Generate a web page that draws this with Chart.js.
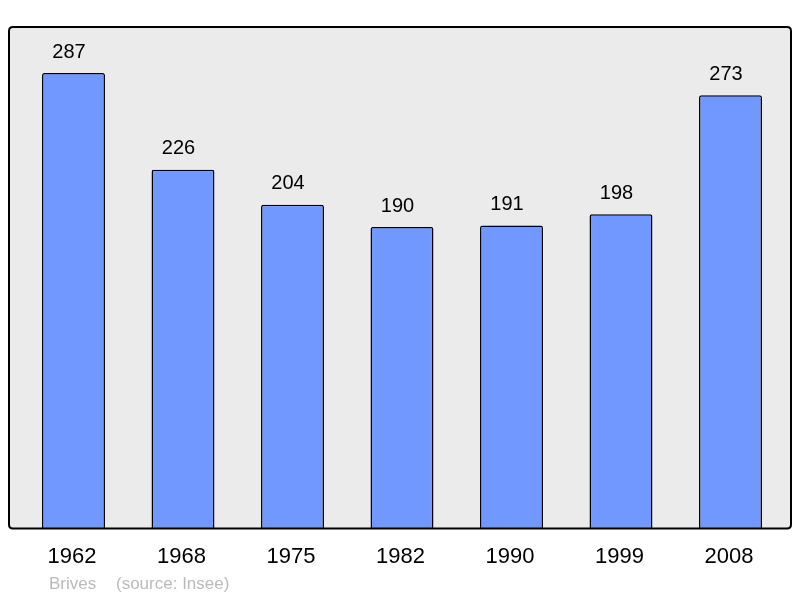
<!DOCTYPE html>
<html>
<head>
<meta charset="utf-8">
<script src="https://cdn.jsdelivr.net/npm/chart.js@4"></script>
<style>
html,body{margin:0;padding:0;background:#fff;}
#wrap{width:800px;height:598px;}
</style>
</head>
<body>
<div id="wrap"><canvas id="c" width="800" height="598"></canvas></div>
<script>
const categories = ["1962","1968","1975","1982","1990","1999","2008"];
const population = [287,226,204,190,191,198,273];
const footerName = "Brives";
const footerSource = "(source: Insee)";

function roundRectPath(ctx,x,y,w,h,r){
  ctx.beginPath();
  ctx.moveTo(x+r,y);
  ctx.lineTo(x+w-r,y);
  ctx.quadraticCurveTo(x+w,y,x+w,y+r);
  ctx.lineTo(x+w,y+h-r);
  ctx.quadraticCurveTo(x+w,y+h,x+w-r,y+h);
  ctx.lineTo(x+r,y+h);
  ctx.quadraticCurveTo(x,y+h,x,y+h-r);
  ctx.lineTo(x,y+r);
  ctx.quadraticCurveTo(x,y,x+r,y);
  ctx.closePath();
}

const framePlugin = {
  id:'frame',
  beforeDatasetsDraw(chart){
    const a = chart.chartArea, ctx = chart.ctx;
    ctx.save();
    roundRectPath(ctx, a.left-9.75, a.top, (a.right+5.75)-(a.left-9.75), a.bottom-a.top, 4);
    ctx.fillStyle = '#ebebeb';
    ctx.fill();
    ctx.restore();
  },
  afterDatasetsDraw(chart){
    const a = chart.chartArea, ctx = chart.ctx;
    ctx.save();
    roundRectPath(ctx, a.left-9.75, a.top, (a.right+5.75)-(a.left-9.75), a.bottom-a.top, 4);
    ctx.lineWidth = 2;
    ctx.strokeStyle = '#000';
    ctx.stroke();
    // value labels
    const meta = chart.getDatasetMeta(0);
    ctx.fillStyle = '#000';
    ctx.font = '20px "Liberation Sans", Arial, sans-serif';
    ctx.textAlign = 'center';
    ctx.textBaseline = 'middle';
    meta.data.forEach((bar,i)=>{
      ctx.fillText(String(chart.data.datasets[0].data[i]), bar.x-4.5, bar.y-21);
    });
    // footer
    ctx.fillStyle = '#bbbbbb';
    ctx.font = '17px "Liberation Sans", Arial, sans-serif';
    ctx.textAlign = 'left';
    ctx.fillText(footerName, 49, 584);
    ctx.fillText(footerSource, 116, 584);
    ctx.restore();
  }
};

new Chart(document.getElementById('c'), {
  type:'bar',
  data:{
    labels:categories,
    datasets:[{
      data:population,
      backgroundColor:'#7098ff',
      borderColor:'#000',
      borderWidth:1.5,
      borderRadius:{topLeft:2,topRight:2,bottomLeft:0,bottomRight:0},
      borderSkipped:'bottom',
      barPercentage:0.575,
      categoryPercentage:1
    }]
  },
  options:{
    responsive:false,
    animation:false,
    devicePixelRatio:1,
    layout:{padding:{top:27,left:18.75,right:14.75,bottom:13}},
    plugins:{legend:{display:false},tooltip:{enabled:false}},
    scales:{
      y:{display:false,min:0,max:316},
      x:{
        grid:{display:false,drawTicks:false},
        border:{display:false},
        ticks:{color:'#000',padding:15,labelOffset:-1.5,font:{size:22,family:'"Liberation Sans", Arial, sans-serif'}}
      }
    }
  },
  plugins:[framePlugin]
});
</script>
</body>
</html>
